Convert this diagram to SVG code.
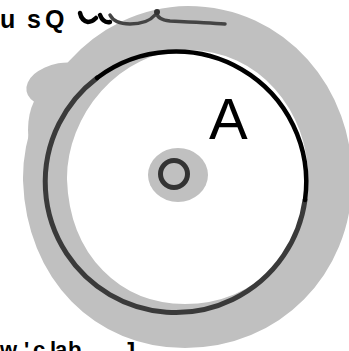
<svg xmlns="http://www.w3.org/2000/svg" width="349" height="351" viewBox="0 0 349 351">
<style>
.band{fill:none;stroke:#c0c0c0;stroke-width:44;stroke-linejoin:round;stroke-linecap:round}
.blob{fill:#c0c0c0}
.ink{fill:none;stroke:#000;stroke-width:4.5;stroke-linecap:round;stroke-linejoin:round}
.ink2{fill:none;stroke:#3a3a3a;stroke-width:5;stroke-linecap:round}
.hand{font-family:"Liberation Sans","DejaVu Sans",sans-serif;fill:#000}
</style>
<rect width="349" height="351" fill="#fff"/>
<g id="outer-band">
<path class="band" d="M 45,180 C 44,105 105,29 188,28 C 272,28 332,100 330,182 C 329,262 268,326 185,326 C 108,326 48,268 45,180 Z"/>
<ellipse class="blob" cx="62" cy="85" rx="36" ry="22" transform="rotate(-10 62 85)"/>
<ellipse class="blob" cx="48" cy="130" rx="20" ry="40"/>
</g>
<g id="circle-A">
<path class="ink2" d="M 305,200 A 130.5 130.5 0 1 1 97,78"/>
<path class="ink" d="M 97,78 A 130.5 130.5 0 0 1 305,200"/>
<text class="hand" x="209" y="139" font-size="58">A</text>
</g>
<g id="center">
<ellipse class="blob" cx="178" cy="175" rx="30" ry="27"/>
<circle cx="174" cy="174" r="13.5" fill="none" stroke="#333" stroke-width="5"/>
</g>
<g id="top-label">
<text class="hand" font-size="25" font-weight="bold" x="0 27 45" y="28">usQ</text>
<path class="ink" stroke-width="3.5" d="M 80,13 C 81,18 83,21 88,22 C 92,22 94,20 96,18 M 100,15 C 102,20 105,23 110,22"/>
<path fill="none" stroke="#444" stroke-width="3.5" stroke-linecap="round" d="M 110,15 C 113,21 120,24 130,24 C 142,24 150,21 155,15 M 157,13 C 157,17 161,20 170,21 C 190,22 210,23 225,24"/>
<circle cx="157" cy="12" r="3" fill="#333"/>
</g>
<g id="bottom-label">
<text class="hand" font-size="22" font-weight="bold" x="0 24 33 50 55 68 123" y="357">w'clabJ</text>
</g>
</svg>
